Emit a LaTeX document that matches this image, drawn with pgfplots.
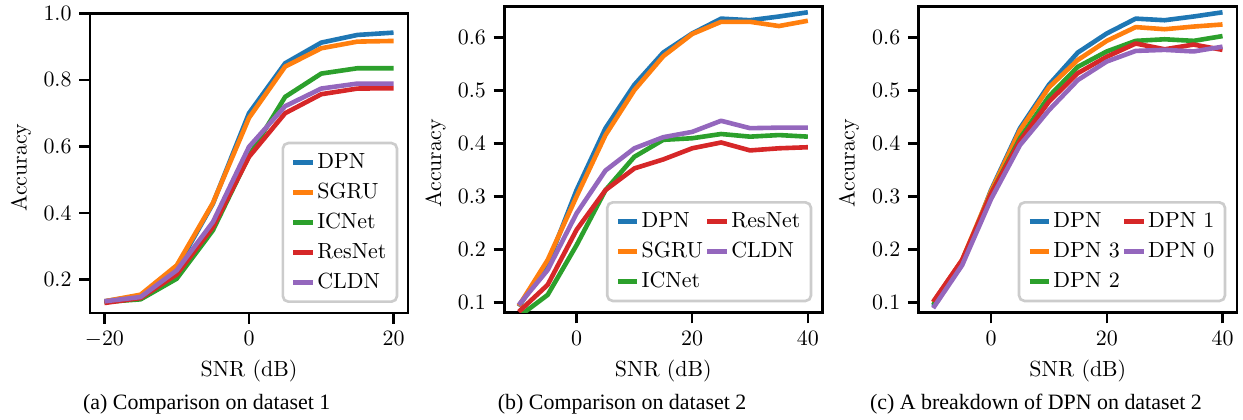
\documentclass[border=0pt]{standalone}
\usepackage{fontspec}
\newfontfamily\capfont{Liberation Serif}
\usepackage{pgfplots}
\pgfplotsset{compat=1.18}
\definecolor{c0}{HTML}{1F77B4}
\definecolor{c1}{HTML}{FF7F0E}
\definecolor{c2}{HTML}{2CA02C}
\definecolor{c3}{HTML}{D62728}
\definecolor{c4}{HTML}{9467BD}
\pgfplotsset{
  base/.style={
    scale only axis,
    anchor=south west,
    tick pos=left,
    tick align=outside,
    major tick length=4.9pt,
    every tick/.append style={black, line width=1.1pt},
    axis line style={line width=1.1pt},
    every axis plot/.append style={line width=2.1pt, line join=round, mark=none},
    yticklabel style={/pgf/number format/.cd, fixed, fixed zerofill, precision=1},
    xlabel={SNR (dB)},
    ylabel={Accuracy},
    legend cell align=left,
    legend image code/.code={\draw[#1, line width=2.1pt] (0pt,0pt) -- (8.8pt,0pt);},
    legend style={draw=black!20, line width=1.2pt, rounded corners=2.5pt,
      fill=white, fill opacity=0.8, text opacity=1,
      inner xsep=3.8pt, inner ysep=4.6pt, row sep=5.29pt, column sep=0pt,
      nodes={inner xsep=1pt, inner ysep=0pt, text height=6.9pt, text depth=1.5pt}},
  },
}
\begin{document}
\begin{tikzpicture}
\useasboundingbox (0,0) rectangle (567.06pt,191.6pt);
% ---------------- (a)
\begin{axis}[base, at={(41.06pt,48.81pt)}, width=145.07pt, height=136.72pt,
  xmin=-22, xmax=22, ymin=0.1, ymax=1.0,
  xtick={-20,0,20}, ytick={0.2,0.4,0.6,0.8,1.0},
  xlabel style={at={(axis description cs:0.5,-0.2119)}, anchor=base},
  ylabel style={at={(axis description cs:-0.199,0.485)}, anchor=base, rotate=0},
  legend style={at={(axis description cs:0.9695,0.0334)}, anchor=south east}]
\addplot[c0] coordinates {(-20,0.135) (-15,0.152) (-10,0.235) (-5,0.428) (0,0.700) (5,0.850) (10,0.912) (15,0.935) (20,0.942)};
\addplot[c1] coordinates {(-20,0.135) (-15,0.155) (-10,0.243) (-5,0.430) (0,0.686) (5,0.840) (10,0.895) (15,0.915) (20,0.917)};
\addplot[c2] coordinates {(-20,0.133) (-15,0.141) (-10,0.203) (-5,0.348) (0,0.572) (5,0.749) (10,0.819) (15,0.835) (20,0.835)};
\addplot[c3] coordinates {(-20,0.130) (-15,0.145) (-10,0.216) (-5,0.358) (0,0.569) (5,0.700) (10,0.757) (15,0.774) (20,0.775)};
\addplot[c4] coordinates {(-20,0.135) (-15,0.148) (-10,0.228) (-5,0.373) (0,0.599) (5,0.721) (10,0.774) (15,0.789) (20,0.789)};
\legend{DPN,SGRU,ICNet,ResNet,CLDN}
\end{axis}
% ---------------- (b)
\begin{axis}[base, at={(230.06pt,48.95pt)}, width=145.07pt, height=139.6pt,
  xmin=-12.5, xmax=42.5, ymin=0.0804, ymax=0.6586,
  xtick={0,20,40}, ytick={0.1,0.2,0.3,0.4,0.5,0.6},
  xlabel style={at={(axis description cs:0.5,-0.209)}, anchor=base},
  ylabel style={at={(axis description cs:-0.199,0.488)}, anchor=base},
  legend columns=2,
  legend style={at={(axis description cs:0.9686,0.034)}, anchor=south east}]
\addplot[c0, forget plot] coordinates {(-10,0.092) (-5,0.172) (0,0.312) (5,0.429) (10,0.511) (15,0.572) (20,0.608) (25,0.636) (30,0.633) (35,0.640) (40,0.648)};
\addplot[c1, forget plot] coordinates {(-10,0.093) (-5,0.180) (0,0.300) (5,0.416) (10,0.501) (15,0.565) (20,0.607) (25,0.630) (30,0.630) (35,0.622) (40,0.632)};
\addplot[c2, forget plot] coordinates {(-10,0.073) (-5,0.114) (0,0.208) (5,0.312) (10,0.375) (15,0.407) (20,0.410) (25,0.418) (30,0.413) (35,0.416) (40,0.413)};
\addplot[c3, forget plot] coordinates {(-10,0.082) (-5,0.133) (0,0.237) (5,0.312) (10,0.353) (15,0.370) (20,0.391) (25,0.402) (30,0.387) (35,0.391) (40,0.393)};
\addplot[c4, forget plot] coordinates {(-10,0.095) (-5,0.161) (0,0.268) (5,0.349) (10,0.391) (15,0.412) (20,0.422) (25,0.443) (30,0.429) (35,0.430) (40,0.430)};
\addlegendimage{c0}\addlegendentry{DPN}
\addlegendimage{c3}\addlegendentry{ResNet}
\addlegendimage{c1}\addlegendentry{SGRU}
\addlegendimage{c4}\addlegendentry{CLDN}
\addlegendimage{c2}\addlegendentry{ICNet}
\end{axis}
% ---------------- (c)
\begin{axis}[base, at={(419.11pt,48.95pt)}, width=145.21pt, height=139.6pt,
  xmin=-12.5, xmax=42.5, ymin=0.0804, ymax=0.6586,
  xtick={0,20,40}, ytick={0.1,0.2,0.3,0.4,0.5,0.6},
  xlabel style={at={(axis description cs:0.5,-0.209)}, anchor=base},
  ylabel style={at={(axis description cs:-0.201,0.488)}, anchor=base},
  legend columns=2,
  legend style={at={(axis description cs:0.9664,0.034)}, anchor=south east}]
\addplot[c0, forget plot] coordinates {(-10,0.092) (-5,0.172) (0,0.312) (5,0.429) (10,0.511) (15,0.572) (20,0.608) (25,0.636) (30,0.633) (35,0.640) (40,0.648)};
\addplot[c1, forget plot] coordinates {(-10,0.100) (-5,0.180) (0,0.310) (5,0.425) (10,0.506) (15,0.558) (20,0.594) (25,0.620) (30,0.616) (35,0.621) (40,0.625)};
\addplot[c2, forget plot] coordinates {(-10,0.095) (-5,0.178) (0,0.305) (5,0.410) (10,0.489) (15,0.545) (20,0.574) (25,0.594) (30,0.597) (35,0.594) (40,0.603)};
\addplot[c3, forget plot] coordinates {(-10,0.101) (-5,0.180) (0,0.305) (5,0.405) (10,0.479) (15,0.533) (20,0.564) (25,0.589) (30,0.578) (35,0.587) (40,0.577)};
\addplot[c4, forget plot] coordinates {(-10,0.089) (-5,0.170) (0,0.295) (5,0.397) (10,0.463) (15,0.520) (20,0.555) (25,0.575) (30,0.577) (35,0.574) (40,0.583)};
\addlegendimage{c0}\addlegendentry{DPN}
\addlegendimage{c3}\addlegendentry{DPN 1}
\addlegendimage{c1}\addlegendentry{DPN 3}
\addlegendimage{c4}\addlegendentry{DPN 0}
\addlegendimage{c2}\addlegendentry{DPN 2}
\end{axis}
% captions
\node[anchor=base, font=\capfont] at (94.3pt,4.88pt) {(a) Comparison on dataset 1};
\node[anchor=base, font=\capfont] at (283.8pt,4.88pt) {(b) Comparison on dataset 2};
\node[anchor=base, font=\capfont] at (472.6pt,4.88pt) {(c) A breakdown of DPN on dataset 2};
\end{tikzpicture}
\end{document}
